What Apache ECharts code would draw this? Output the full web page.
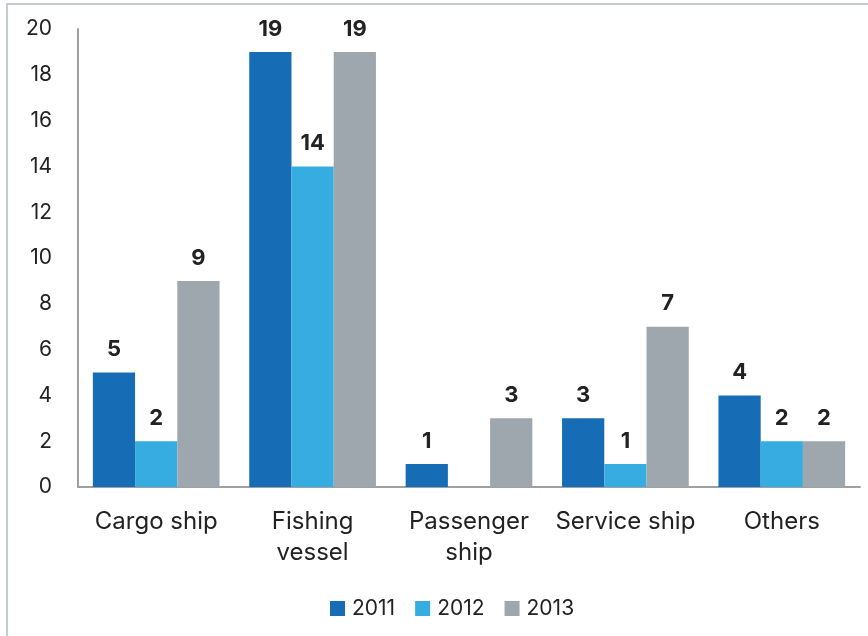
<!DOCTYPE html>
<html>
<head>
<meta charset="utf-8">
<script src="https://cdn.jsdelivr.net/npm/echarts@6/dist/echarts.min.js"></script>
<style>
  html, body { margin: 0; padding: 0; background: #fff; }
  #chart { width: 868px; height: 636px; }
</style>
</head>
<body>
<div id="chart"></div>
<script>
// Ship categories (wrapped labels use line breaks)
const categories = ['Cargo ship', 'Fishing\nvessel', 'Passenger\nship', 'Service ship', 'Others'];
const years = ['2011', '2012', '2013'];
const values2011 = [5, 19, 1, 3, 4];
const values2012 = [2, 14, null, 1, 2];
const values2013 = [9, 19, 3, 7, 2];
const yTicks = { min: 0, max: 20, interval: 2 };

const colors = ['#176db5', '#36ace0', '#9ea7ad'];
const FONT = 'Inter, "Noto Sans", sans-serif';

const chart = echarts.init(document.getElementById('chart'), null, { renderer: 'canvas' });

function barSeries(name, data, color) {
  return {
    name: name,
    type: 'bar',
    data: data,
    barGap: '0%',
    barCategoryGap: '19%',
    itemStyle: { color: color },
    label: {
      show: true,
      position: 'top',
      distance: 12,
      color: '#222',
      fontFamily: FONT,
      fontWeight: 'bold',
      fontSize: 22
    }
  };
}

chart.setOption({
  animation: false,
  color: colors,
  graphic: [{
    type: 'rect',
    shape: { x: 7, y: 4, width: 900, height: 700 },
    style: { fill: 'none', stroke: '#c5ccd0', lineWidth: 2 },
    silent: true
  }],
  grid: { left: 78, right: 8, top: 29, bottom: 149, containLabel: false },
  legend: {
    bottom: 12,
    left: 325,
    itemWidth: 15,
    itemHeight: 15,
    itemGap: 20,
    icon: 'rect',
    textStyle: { fontFamily: FONT, fontSize: 21, color: '#222', padding: [0, 0, 0, 2] },
    data: years
  },
  xAxis: {
    type: 'category',
    data: categories,
    axisLine: { lineStyle: { color: '#a0a0a0', width: 2 } },
    axisTick: { show: false },
    axisLabel: {
      fontFamily: FONT,
      fontSize: 24,
      color: '#222',
      margin: 19,
      lineHeight: 31,
      interval: 0
    }
  },
  yAxis: {
    type: 'value',
    min: yTicks.min,
    max: yTicks.max,
    interval: yTicks.interval,
    axisLine: { show: true, lineStyle: { color: '#a0a0a0', width: 2 } },
    axisTick: { show: false },
    splitLine: { show: false },
    axisLabel: {
      fontFamily: FONT,
      fontSize: 21,
      color: '#222',
      margin: 26
    }
  },
  series: [
    barSeries(years[0], values2011, colors[0]),
    barSeries(years[1], values2012, colors[1]),
    barSeries(years[2], values2013, colors[2])
  ]
});
</script>
</body>
</html>
